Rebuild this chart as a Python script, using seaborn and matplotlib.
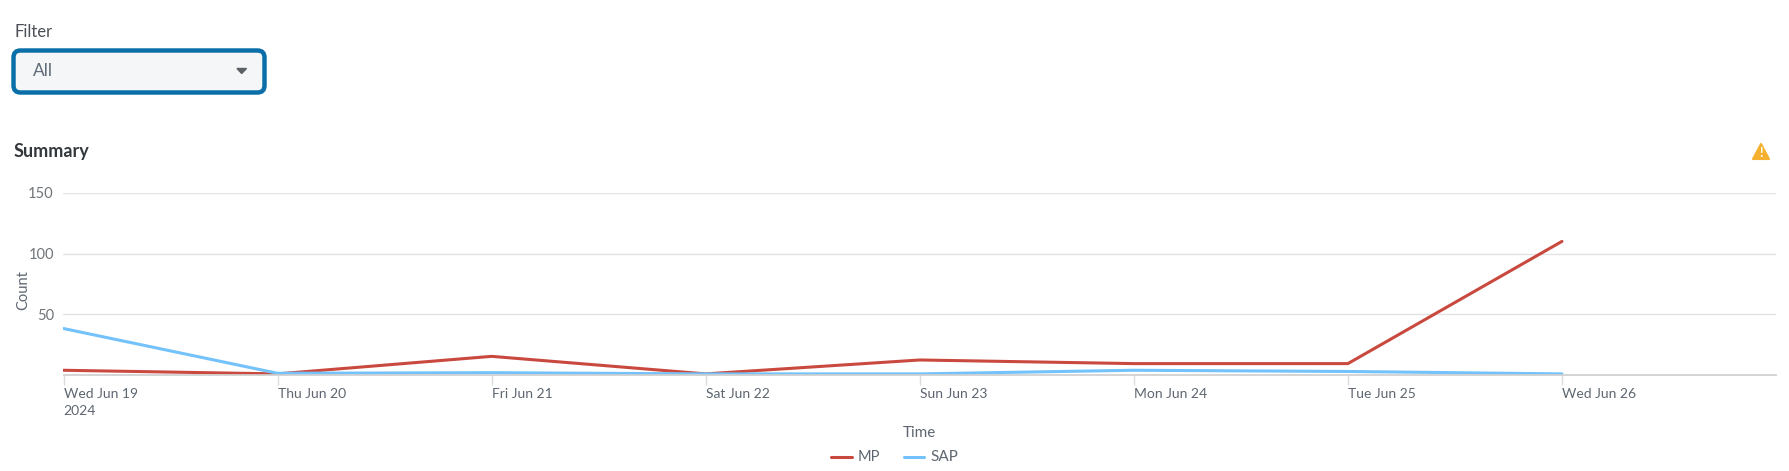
import matplotlib
matplotlib.use("Agg")
import matplotlib.pyplot as plt
import matplotlib.patches as mpatches
import pandas as pd
import seaborn as sns

days = ["2024-06-19", "2024-06-20", "2024-06-21", "2024-06-22",
        "2024-06-23", "2024-06-24", "2024-06-25", "2024-06-26"]
mp_counts = [3.5, 0.5, 15, 0.5, 12, 9, 9, 110]
sap_counts = [38, 1, 1.5, 0.5, 0.5, 3.5, 2.5, 0.5]
tick_labels = ["Wed Jun 19\n2024", "Thu Jun 20", "Fri Jun 21", "Sat Jun 22",
               "Sun Jun 23", "Mon Jun 24", "Tue Jun 25", "Wed Jun 26"]
y_ticks = [50, 100, 150]

W, H = 1790, 471
sns.set_theme(style="white")
plt.rcParams["font.family"] = ["Lato", "DejaVu Sans"]

df = pd.DataFrame({"Time": pd.to_datetime(days), "MP": mp_counts, "SAP": sap_counts})
df = df.melt(id_vars="Time", var_name="Series", value_name="Count")

fig = plt.figure(figsize=(W / 100, H / 100), dpi=100, facecolor="white")
# overlay in pixel coords for the page bits around the chart
page = fig.add_axes([0, 0, 1, 1])
page.set_xlim(0, W)
page.set_ylim(H, 0)
page.axis("off")

ax = fig.add_axes([63.5 / W, 1 - 374.5 / H, (1776 - 63.5) / W, 181.5 / H])
sns.lineplot(data=df, x="Time", y="Count", hue="Series",
             palette={"MP": "#c9493f", "SAP": "#73c2fb"}, linewidth=2.2, ax=ax, legend=False)

ax.set_ylim(0, 150)
ax.set_xlim(pd.Timestamp("2024-06-19"), pd.Timestamp("2024-06-27"))
ax.set_yticks(y_ticks)
ax.set_xticks(pd.to_datetime(days))
ax.set_xticklabels(tick_labels, ha="left", linespacing=1.45)
ax.set_xlabel("")
ax.set_ylabel("")
ax.grid(axis="y", color="#e3e3e3", linewidth=1)
ax.set_axisbelow(True)
ax.patch.set_alpha(0)
for s in ["top", "right", "left"]:
    ax.spines[s].set_visible(False)
ax.spines["bottom"].set_color("#cfcfcf")
ax.tick_params(axis="y", length=0, labelsize=10.5, labelcolor="#6f7478", pad=7)
ax.tick_params(axis="x", length=7, width=1, color="#dcdcdc", labelsize=10, labelcolor="#5d6670", pad=3, bottom=True)

page.text(15, 32, "Filter", fontsize=12, color="#4a4f55", va="center")
box = mpatches.FancyBboxPatch((13.5, 50.5), 251, 42, boxstyle="round,pad=0,rounding_size=7",
                              facecolor="#f5f6f7", edgecolor="#0a6ea8", linewidth=3.2)
page.add_patch(box)
page.text(33, 70.5, "All", fontsize=12.5, color="#5f6b78", va="center")
page.add_patch(mpatches.Polygon([(237, 68.5), (246.5, 68.5), (241.7, 73.5)], closed=True, color="#5b6167"))

page.text(14, 152, "Summary", fontsize=13, fontweight="bold", color="#33383d", va="center")

page.add_patch(mpatches.Polygon([(1753, 159), (1769, 159), (1761, 144)], closed=True,
                                facecolor="#f5b02e", edgecolor="#f5b02e", linewidth=1.5, joinstyle="round"))
page.text(1761, 153, "!", fontsize=9, fontweight="bold", color="white", ha="center", va="center")

page.text(23, 290, "Count", fontsize=10.5, color="#5d6670", rotation=90, ha="center", va="center")
page.text(919.5, 433, "Time", fontsize=11, color="#5d6670", ha="center", va="center")

page.plot([831, 852], [457, 457], color="#c9493f", linewidth=2.2)
page.text(858, 457, "MP", fontsize=10.5, color="#5d6670", va="center")
page.plot([904, 924], [457, 457], color="#73c2fb", linewidth=2.2)
page.text(930, 457, "SAP", fontsize=11, color="#5d6670", va="center")

fig.savefig("out.png", dpi=100)
